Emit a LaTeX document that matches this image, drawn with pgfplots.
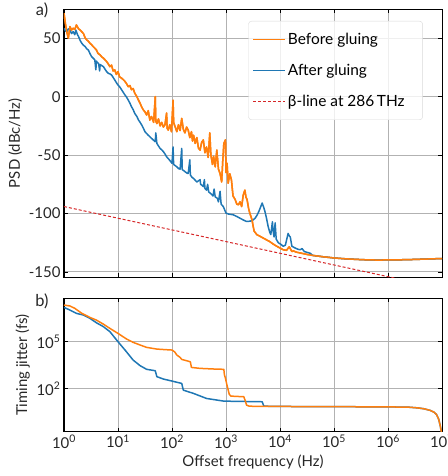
\documentclass[border=0pt]{standalone}
\usepackage{fontspec}
\setmainfont{Lato}
\usepackage{pgfplots}
\usepackage{pgfplotstable}
\pgfplotsset{compat=1.18}
\definecolor{tabblue}{RGB}{31,119,180}
\definecolor{taborange}{RGB}{255,127,14}
\definecolor{tabred}{RGB}{214,39,40}
\definecolor{gridgray}{RGB}{178,178,178}

% x: log10 of offset frequency (Hz); y: PSD (dBc/Hz)
\pgfplotstableread{
lf db
0 71.4
0.025 62.9
0.05 55.7
0.08 50
0.11 60
0.14 57
0.17 58.6
0.2 57.5
0.23 61.4
0.27 58
0.3 57
0.33 55.5
0.36 54
0.39 50.5
0.42 48.6
0.45 47.5
0.48 45.7
0.51 44.5
0.54 42.9
0.57 41.5
0.6 40
0.63 37
0.67 35.7
0.7 34
0.73 33
0.76 31.5
0.79 30
0.82 28
0.85 25.7
0.88 27
0.91 22
0.94 22.9
0.97 19
1.0 21.4
1.03 17
1.07 15.7
1.1 14.5
1.13 13
1.16 11
1.19 8.6
1.22 9.5
1.25 6
1.28 7
1.31 3
1.35 0
1.38 -3
1.41 -5.7
1.44 -9
1.47 -11.4
1.5 -13
1.53 -15.7
1.56 -12
1.59 -20
1.62 -17
1.66 -22
1.69 0
1.7 -21
1.72 -23
1.75 -19
1.78 -25
1.81 -22
1.84 -26
1.87 -24
1.9 -14
1.91 -27
1.93 -28.6
1.96 -24
1.99 -30
2.02 -3
2.03 -22
2.06 -26
2.09 -30
2.12 -24
2.15 -29
2.18 -18.6
2.21 -28
2.24 -31
2.27 -26
2.3 -28.6
2.33 -35
2.36 -30
2.38 -38
2.4 -33
2.43 -40
2.46 -35
2.49 -44
2.52 -45.7
2.55 -39
2.58 -37
2.61 -48
2.64 -43
2.67 -52
2.7 -31
2.72 -50
2.75 -58
2.77 -51
2.8 -60
2.83 -45.7
2.86 -62
2.89 -65.7
2.92 -73
2.94 -55
2.96 -40
2.99 -37
3.0 -65
3.02 -57
3.04 -74
3.07 -66
3.1 -71
3.13 -85
3.17 -88
3.2 -92
3.23 -92.5
3.26 -90
3.29 -94
3.32 -84
3.35 -80
3.37 -86
3.39 -88
3.42 -96
3.44 -99.6
3.48 -105
3.52 -115
3.57 -118
3.63 -119.5
3.69 -121
3.75 -122.5
3.81 -124
3.87 -126
3.94 -128
4.0 -129.5
4.06 -131
4.12 -131.5
4.17 -128.5
4.19 -130
4.22 -132.5
4.25 -132
4.3 -133
4.4 -134
4.5 -135
4.6 -135.8
4.8 -137
5.0 -138
5.2 -138.7
5.4 -139.2
5.6 -139.6
5.8 -139.8
6.0 -139.7
6.2 -139.6
6.4 -139.4
6.6 -139.1
6.8 -138.8
7.0 -138.5
}\psdbefore

\pgfplotstableread{
lf db
0 58.6
0.03 56
0.05 55.7
0.08 58
0.11 57
0.14 54
0.17 55.7
0.2 53
0.22 57
0.25 53
0.27 51.4
0.3 48
0.33 45.7
0.36 44
0.39 43
0.42 41
0.45 40
0.48 37
0.51 34.3
0.54 33
0.57 31.5
0.59 23
0.6 30.5
0.62 29
0.64 28.6
0.66 22
0.67 27.5
0.7 26.5
0.73 25.7
0.76 23.5
0.79 21.4
0.82 20
0.85 19.5
0.88 18.6
0.91 16.5
0.94 14.3
0.97 12
1.0 10
1.03 8.5
1.07 5.7
1.1 3.5
1.13 1.4
1.16 -0.5
1.19 -2.9
1.22 -5.5
1.25 -8.6
1.28 -11
1.31 -14.3
1.35 -17
1.38 -20
1.41 -22
1.44 -24.3
1.47 -27
1.5 -30
1.55 -32.5
1.59 -34.3
1.64 -36.5
1.69 -38.6
1.7 -31
1.72 -40
1.74 -41.5
1.78 -44.3
1.81 -45.5
1.84 -47
1.87 -49
1.9 -51.4
1.95 -54
2.0 -57
2.02 -43
2.03 -58
2.06 -59
2.09 -60
2.12 -61.5
2.15 -62
2.18 -44.3
2.19 -62.5
2.21 -63
2.25 -64.5
2.28 -65.5
2.3 -65.7
2.33 -54
2.34 -67
2.37 -69
2.4 -70
2.43 -71.5
2.46 -73
2.49 -72
2.52 -71
2.53 -75
2.56 -76
2.58 -77
2.6 -71
2.61 -78.5
2.64 -80
2.66 -75
2.68 -81.5
2.72 -83
2.76 -85
2.78 -79
2.8 -85.7
2.84 -87
2.86 -90
2.89 -81
2.91 -92
2.95 -94
3.0 -99.6
3.05 -100.5
3.13 -101
3.2 -102.5
3.26 -104
3.32 -105.5
3.38 -106.8
3.45 -106.5
3.5 -105.5
3.54 -104
3.58 -101
3.61 -98
3.64 -94.5
3.67 -91
3.7 -95
3.72 -98
3.75 -104
3.78 -111
3.81 -116
3.83 -118
3.86 -107
3.87 -114
3.89 -120
3.91 -108
3.93 -122
3.97 -125
4.02 -126.5
4.06 -128
4.1 -127
4.13 -121
4.15 -117
4.17 -119
4.19 -120
4.22 -128
4.28 -129.5
4.33 -130.5
4.37 -131
4.41 -130
4.45 -132.5
4.5 -133.2
4.56 -134
4.6 -135.8
4.8 -137
5.0 -138
5.2 -138.7
5.4 -139.2
5.6 -139.6
5.8 -139.8
6.0 -139.7
6.2 -139.6
6.4 -139.4
6.6 -139.1
6.8 -138.8
7.0 -138.5
}\psdafter

\pgfplotstableread{
lf db
0 -94
7 -164
}\betaline

% x: log10 of offset frequency (Hz); y: log10 of timing jitter (fs)
\pgfplotstableread{
lf lj
0 7.34
0.11 7.28
0.2 7.13
0.33 6.81
0.48 6.55
0.6 6.38
0.73 6.12
0.85 5.85
1.0 5.53
1.16 5.17
1.28 4.96
1.41 4.79
1.53 4.64
1.72 4.53
1.9 4.49
2.0 4.47
2.05 4.35
2.09 4.15
2.15 4.0
2.18 3.87
2.27 3.79
2.34 3.72
2.36 3.36
2.52 3.3
2.77 3.26
2.96 3.24
2.97 2.9
2.99 2.67
3.02 2.2
3.06 1.65
3.09 1.53
3.33 1.49
3.36 1.2
3.38 0.96
3.42 0.9
3.5 0.88
4 0.87
5 0.86
6 0.84
6.36 0.83
6.55 0.78
6.67 0.72
6.78 0.62
6.85 0.51
6.9 0.35
6.94 0.04
6.97 -0.4
6.99 -0.8
}\jitbefore

\pgfplotstableread{
lf lj
0 7.19
0.11 7.02
0.23 6.81
0.36 6.7
0.48 6.49
0.6 6.21
0.73 5.96
0.85 5.64
1.0 5.0
1.13 4.47
1.28 3.83
1.41 3.47
1.53 3.24
1.69 3.15
1.72 2.77
1.84 2.62
2.0 2.49
2.18 2.34
2.21 1.91
2.4 1.7
2.64 1.38
2.96 1.21
3.67 1.17
3.7 0.9
3.8 0.88
4 0.87
5 0.86
6 0.84
6.36 0.83
6.55 0.78
6.67 0.72
6.78 0.62
6.85 0.51
6.9 0.35
6.94 0.04
6.97 -0.4
6.99 -0.8
}\jitafter

\begin{document}
\begin{tikzpicture}
\pgfplotsset{
 common/.style={
  scale only axis, width=378bp,
  xmin=0, xmax=7, xtick={0,...,7},
  grid=major, grid style={gridgray, line width=1bp},
  tick align=inside, major tick length=4bp,
  tick style={black, line width=0.8bp},
  axis line style={black, line width=1bp},
  tick label style={font=\fontsize{15}{17}\selectfont, text=black!85},
  label style={font=\fontsize{15}{17}\selectfont, text=black!85},
  every axis plot/.append style={line width=1.5bp, line join=round},
 }
}
\begin{axis}[common,
  at={(64bp,-277bp)}, anchor=south west, height=267.5bp,
  ymin=-154.3, ymax=74.6,
  ytick={-150,-100,-50,0,50}, yticklabels={-150,-100,-50,0,50},
  xticklabels={},
  ylabel={PSD (dBc/Hz)},
  legend cell align=left,
  legend style={at={(0,1)}, anchor=north west, xshift=184.3bp, yshift=-11.5bp,
    draw=black!15, rounded corners=3bp, fill=white, fill opacity=0.8, text opacity=1,
    font=\fontsize{15.5}{17}\selectfont, row sep=14bp, inner xsep=4bp, inner ysep=10bp},
  legend image code/.code={\draw[#1, line width=1.5bp] (0bp,0bp) -- (22bp,0bp); \path (0bp,0bp) -- (32bp,0bp);},
]
\addplot[taborange] table[x=lf, y=db] {\psdbefore};
\addlegendentry{Before gluing}
\addplot[tabblue] table[x=lf, y=db] {\psdafter};
\addlegendentry{After gluing}
\addplot[tabred, line width=1bp, dash pattern=on 3bp off 2bp] table[x=lf, y=db] {\betaline};
\addlegendentry{β-line at 286\,THz\hspace{12bp}\null}
\addplot[taborange, forget plot] table[x=lf, y=db] {\psdbefore};
\end{axis}

\begin{axis}[common,
  at={(64bp,-431.7bp)}, anchor=south west, height=133.4bp,
  ymin=-0.74, ymax=7.77,
  ytick={2,5}, yticklabels={10\textsuperscript{2},10\textsuperscript{5}},
  xticklabels={10\textsuperscript{0},10\textsuperscript{1},10\textsuperscript{2},10\textsuperscript{3},10\textsuperscript{4},10\textsuperscript{5},10\textsuperscript{6},10\textsuperscript{7}},
  xlabel={Offset frequency (Hz)},
  ylabel={Timing jitter (fs)},
]
\addplot[tabblue] table[x=lf, y=lj] {\jitafter};
\addplot[taborange] table[x=lf, y=lj] {\jitbefore};
\end{axis}

\node[font=\fontsize{16.5}{18}\selectfont, text=black!85] at (42bp,-10.5bp) {a)};
\node[font=\fontsize{16.5}{18}\selectfont, text=black!85] at (42bp,-301.5bp) {b)};

\pgfresetboundingbox
\useasboundingbox (0bp,0bp) rectangle (448bp,-476bp);
\end{tikzpicture}
\end{document}
